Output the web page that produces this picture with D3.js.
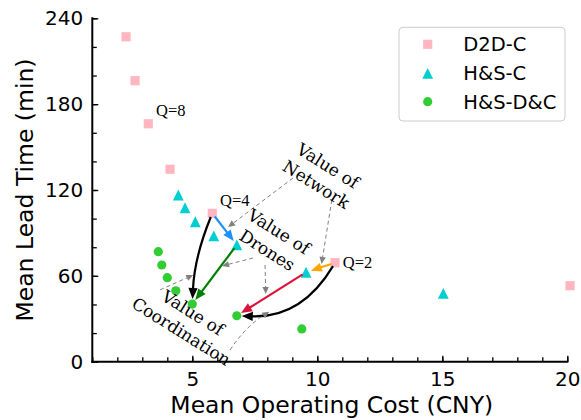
<!DOCTYPE html>
<html>
<head>
<meta charset="utf-8">
<script src="https://cdn.jsdelivr.net/npm/d3@7/dist/d3.min.js"></script>
<style>
  html, body { margin: 0; padding: 0; background: #fff; }
  svg { display: block; }
</style>
</head>
<body>
<svg id="chart" width="581" height="420"></svg>
<script>
// ---- data -------------------------------------------------------------
const seriesNames = ["D2D-C", "H&S-C", "H&S-D&C"];
const seriesColors = ["#FFB6C1", "#00CED1", "#32CD32"];

// mean operating cost (CNY) / mean lead time (min)
const d2dCost = [2.35, 2.71, 3.24, 4.11, 5.80, 10.71, 20.11];
const d2dTime = [227.1, 196.4, 166.3, 134.5, 103.7, 69.2, 53.1];
const hsCost  = [4.44, 4.71, 5.12, 5.86, 6.78, 9.55, 15.04];
const hsTime  = [116.5, 107.6, 97.8, 87.9, 81.6, 62.5, 47.8];
const hsdcCost = [3.64, 3.78, 4.00, 4.34, 5.00, 6.78, 9.38];
const hsdcTime = [76.9, 67.6, 58.7, 49.6, 40.3, 32.1, 22.9];

const xMajorTicks = [5, 10, 15, 20];
const xMinorTicks = d3.range(1, 21, 1);
const yMajorTicks = [0, 60, 120, 180, 240];
const yMinorTicks = d3.range(0, 241, 20);

// fleet-size labels: [text, cost, time]
const qLabels = [["Q=8", 3.55, 171.7], ["Q=4", 6.11, 108.8], ["Q=2", 11.02, 65.5]];

// transitions between configurations: [from cost, from time, to cost, to time, color, bend]
const transitions = [
  [5.80, 103.7, 6.78, 81.6, "#1E90FF", 0],
  [6.78, 81.6, 5.00, 40.3, "#008000", 0],
  [5.80, 103.7, 5.00, 40.3, "#000000", 8],
  [10.71, 69.2, 9.55, 62.5, "#FFA500", 0],
  [9.55, 62.5, 6.78, 32.1, "#DC143C", 0],
  [10.71, 69.2, 6.78, 32.1, "#000000", -33]
];

// value callouts: [line1, line2, centre cost, centre time]
const callouts = [
  ["Value of", "Network", 10.19, 130.4],
  ["Value of", "Drones", 8.23, 84.4],
  ["Value of", "Coordination", 4.79, 27.7]
];
// dashed pointers: [start cost, start time, end cost, end time, bend]
const pointers = [
  [9.03, 128.4, 6.43, 94.1, 0],
  [10.58, 113.0, 10.17, 68.3, 0],
  [7.43, 72.5, 6.19, 66.9, 0],
  [7.91, 67.6, 7.94, 47.3, 0],
  [3.71, 50.2, 5.04, 60.6, 0],
  [6.51, 8.2, 8.08, 34.9, -6]
];

// ---- layout -----------------------------------------------------------
const svg = d3.select("#chart");
const margin = { left: 92.3, top: 18.3, right: 13.7, bottom: 58.3 };
const W = 581, H = 420;
const x = d3.scaleLinear().domain([1, 20]).range([margin.left, W - margin.right]);
const y = d3.scaleLinear().domain([0, 240]).range([H - margin.bottom, margin.top]);

const sans = "DejaVu Sans";
const serif = "DejaVu Serif";
const qSerif = "Liberation Serif";

// ---- axes -------------------------------------------------------------
const xAxisG = svg.append("g").attr("transform", `translate(0,${y(0)})`);
xAxisG.append("g").call(d3.axisBottom(x).tickValues(xMinorTicks).tickSizeInner(-4.5).tickSizeOuter(0).tickFormat(""))
  .call(g => g.select(".domain").remove());
xAxisG.append("g").call(d3.axisBottom(x).tickValues(xMajorTicks).tickSizeInner(-6).tickSizeOuter(0).tickPadding(10).tickFormat(d3.format("d")))
  .call(g => g.select(".domain").remove())
  .call(g => g.selectAll("text").attr("font-family", sans).attr("font-size", 20).attr("fill", "#000"));

const yAxisG = svg.append("g").attr("transform", `translate(${x(1)},0)`);
yAxisG.append("g").call(d3.axisLeft(y).tickValues(yMinorTicks).tickSizeInner(-4.5).tickSizeOuter(0).tickFormat(""))
  .call(g => g.select(".domain").remove());
yAxisG.append("g").call(d3.axisLeft(y).tickValues(yMajorTicks).tickSizeInner(-6).tickSizeOuter(0).tickPadding(9).tickFormat(d3.format("d")))
  .call(g => g.select(".domain").remove())
  .call(g => g.selectAll("text").attr("font-family", sans).attr("font-size", 20).attr("fill", "#000"));

svg.selectAll(".tick line").attr("stroke", "#000").attr("stroke-width", 1.3);

// spines
svg.append("line").attr("x1", x(1)).attr("x2", x(1)).attr("y1", y(240)).attr("y2", y(0))
  .attr("stroke", "#000").attr("stroke-width", 2).attr("stroke-linecap", "square");
svg.append("line").attr("x1", x(1)).attr("x2", x(20)).attr("y1", y(0)).attr("y2", y(0))
  .attr("stroke", "#000").attr("stroke-width", 2).attr("stroke-linecap", "square");

// axis titles
svg.append("text").attr("x", (x(1) + x(20)) / 2 + 2).attr("y", 413)
  .attr("text-anchor", "middle").attr("font-family", sans).attr("font-size", 23.5)
  .text("Mean Operating Cost (CNY)");
svg.append("text").attr("transform", `translate(33,${(y(0) + y(240)) / 2}) rotate(-90)`)
  .attr("text-anchor", "middle").attr("font-family", sans).attr("font-size", 23.5)
  .text("Mean Lead Time (min)");

// ---- markers ----------------------------------------------------------
function markerPath(kind) {
  if (kind === 0) { const s = 4.6; return `M${-s},${-s}H${s}V${s}H${-s}Z`; }
  if (kind === 1) { const s = 5.4; return `M0,${-s}L${s},${s}L${-s},${s}Z`; }
  const r = 4.6; return `M${r},0A${r},${r} 0 1,1 ${-r},0A${r},${r} 0 1,1 ${r},0Z`;
}
const seriesData = [
  d3.zip(d2dCost, d2dTime),
  d3.zip(hsCost, hsTime),
  d3.zip(hsdcCost, hsdcTime)
];
seriesData.forEach((pts, i) => {
  svg.append("g").selectAll("path").data(pts).join("path")
    .attr("d", markerPath(i))
    .attr("transform", d => `translate(${x(d[0])},${y(d[1])})`)
    .attr("fill", seriesColors[i]);
});

// ---- arrows -----------------------------------------------------------
function drawArrow(g, p0, p1, o) {
  const dx = p1[0] - p0[0], dy = p1[1] - p0[1];
  const len = Math.hypot(dx, dy);
  const nx = -dy / len, ny = dx / len;
  const c = [(p0[0] + p1[0]) / 2 + nx * o.bend, (p0[1] + p1[1]) / 2 + ny * o.bend];
  // shrink at both ends along the tangent
  const t0 = [c[0] - p0[0], c[1] - p0[1]]; const l0 = Math.hypot(t0[0], t0[1]);
  const s = [p0[0] + t0[0] / l0 * o.shrinkA, p0[1] + t0[1] / l0 * o.shrinkA];
  const t1 = [p1[0] - c[0], p1[1] - c[1]]; const l1 = Math.hypot(t1[0], t1[1]);
  const ux = t1[0] / l1, uy = t1[1] / l1;
  const tip = [p1[0] - ux * o.shrinkB, p1[1] - uy * o.shrinkB];
  const base = [tip[0] - ux * o.hl, tip[1] - uy * o.hl];
  const path = d3.path();
  path.moveTo(s[0], s[1]);
  if (o.bend) path.quadraticCurveTo(c[0], c[1], base[0] + ux, base[1] + uy);
  else path.lineTo(base[0] + ux, base[1] + uy);
  g.append("path").attr("d", path.toString()).attr("fill", "none")
    .attr("stroke", o.color).attr("stroke-width", o.width)
    .attr("stroke-dasharray", o.dash || null);
  g.append("path")
    .attr("d", `M${tip[0]},${tip[1]}L${base[0] - uy * o.hw},${base[1] + ux * o.hw}L${base[0] + uy * o.hw},${base[1] - ux * o.hw}Z`)
    .attr("fill", o.color);
}

const arrowG = svg.append("g");
transitions.forEach(t => {
  drawArrow(arrowG, [x(t[0]), y(t[1])], [x(t[2]), y(t[3])],
    { color: t[4], bend: t[5], width: 2.2, shrinkA: 4, shrinkB: 5, hl: 11, hw: 4.6 });
});

const pointerG = svg.append("g");
pointers.forEach(p => {
  drawArrow(pointerG, [x(p[0]), y(p[1])], [x(p[2]), y(p[3])],
    { color: "#808080", bend: p[4], width: 1, shrinkA: 0, shrinkB: 0, hl: 7, hw: 3.2, dash: "4,3" });
});

// ---- annotation texts -------------------------------------------------
callouts.forEach(c => {
  const g = svg.append("g").attr("transform", `translate(${x(c[2])},${y(c[3])}) rotate(32)`);
  g.append("text").attr("y", -11).attr("dy", "0.35em").attr("text-anchor", "middle")
    .attr("font-family", serif).attr("font-size", 17).text(c[0]);
  g.append("text").attr("y", 11).attr("dy", "0.35em").attr("text-anchor", "middle")
    .attr("font-family", serif).attr("font-size", 17).text(c[1]);
});

svg.append("g").selectAll("text").data(qLabels).join("text")
  .attr("x", d => x(d[1])).attr("y", d => y(d[2]))
  .attr("font-family", qSerif).attr("font-size", 16.5).text(d => d[0]);

// ---- legend -----------------------------------------------------------
const leg = svg.append("g");
leg.append("rect").attr("x", 399).attr("y", 27.3).attr("width", 166).attr("height", 93.7)
  .attr("rx", 4).attr("fill", "#fff").attr("stroke", "#cccccc").attr("stroke-width", 1);
const rowY = [44.3, 73.3, 101.7];
seriesNames.forEach((name, i) => {
  leg.append("path").attr("d", markerPath(i)).attr("transform", `translate(427.7,${rowY[i]})`)
    .attr("fill", seriesColors[i]);
  leg.append("text").attr("x", 463.3).attr("y", rowY[i]).attr("dy", "0.35em")
    .attr("font-family", sans).attr("font-size", 19.5).text(name);
});
</script>
</body>
</html>
